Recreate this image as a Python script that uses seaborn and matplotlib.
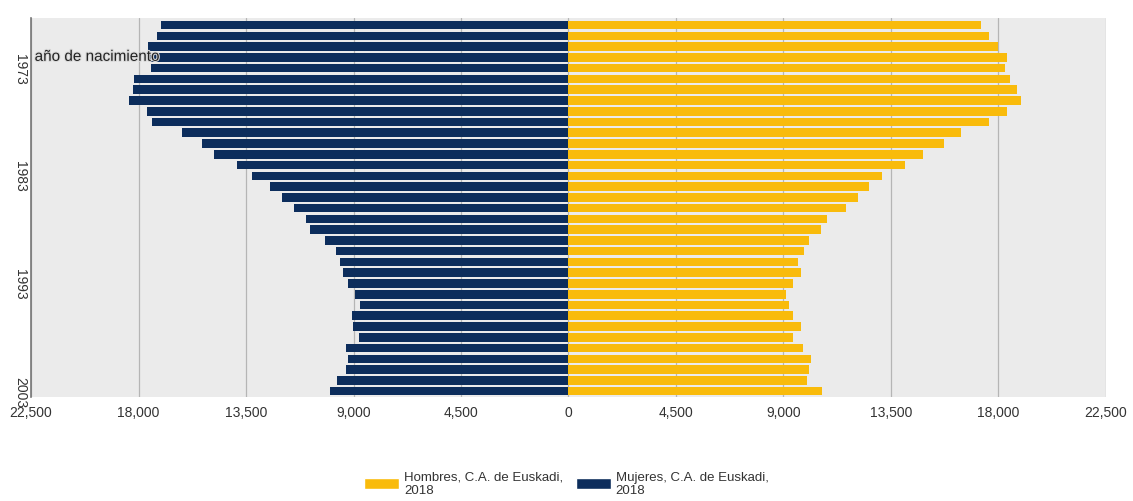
import matplotlib.pyplot as plt
import matplotlib.patheffects as pe
import numpy as np
import pandas as pd
import seaborn as sns
from matplotlib.patches import Patch

# birth years, top to bottom
years = list(range(1969, 2004))

# men (right side)
hombres = [17260, 17600, 17980, 18360, 18260, 18490, 18790, 18930, 18360, 17600,
           16450, 15720, 14860, 14070, 13120, 12580, 12140, 11620, 10820, 10580,
           10070, 9880, 9620, 9720, 9390, 9110, 9230, 9390, 9720, 9390,
           9830, 10150, 10070, 10000, 10630]

# women (left side)
mujeres = [17080, 17220, 17590, 17540, 17490, 18180, 18250, 18390, 17640, 17450,
           16200, 15350, 14830, 13870, 13240, 12490, 12010, 11480, 11000, 10810,
           10210, 9730, 9570, 9460, 9250, 8930, 8720, 9070, 9030, 8770,
           9300, 9250, 9300, 9680, 10000]

year_ticks = ['1973', '1983', '1993', '2003']
x_ticks = [-22500, -18000, -13500, -9000, -4500, 0, 4500, 9000, 13500, 18000, 22500]

c_h = '#f9bb0b'
c_m = '#0c2d5c'

df = pd.DataFrame({'year': [str(y) for y in years],
                   'hombres': hombres,
                   'mujeres': [-v for v in mujeres]})

sns.set_style('white')
plt.rcParams['font.family'] = ['Liberation Sans', 'DejaVu Sans']

fig = plt.figure(figsize=(11.33, 5.02), dpi=100)
ax = fig.add_axes([0.0274, 0.207, 0.9487, 0.755])
ax.set_facecolor('#ebebeb')

order = df['year'].tolist()
sns.barplot(data=df, x='hombres', y='year', order=order, orient='h',
            color=c_h, saturation=1, width=0.8, linewidth=0, ax=ax, zorder=2)
sns.barplot(data=df, x='mujeres', y='year', order=order, orient='h',
            color=c_m, saturation=1, width=0.8, linewidth=0, ax=ax, zorder=2)

# vertical grid
for xv in x_ticks:
    ax.axvline(xv, color='#b5b5b5', lw=0.9, zorder=1)

ax.set_xlim(-22500, 22500)
ax.set_ylim(34.55, -0.65)
ax.set_xticks(x_ticks)
ax.set_xticklabels([f'{abs(v):,}' for v in x_ticks], fontsize=10, color='#333333')
ax.set_yticks([order.index(t) for t in year_ticks])
ax.set_yticklabels(year_ticks, rotation=-90, va='center', fontsize=10, color='#333333')
ax.tick_params(axis='y', length=0, pad=3)
ax.tick_params(axis='x', length=0, pad=6)
ax.set_xlabel('')
ax.set_ylabel('')

for s in ['top', 'right', 'bottom']:
    ax.spines[s].set_visible(False)
ax.spines['left'].set_color('#777777')
ax.spines['left'].set_linewidth(1.2)

ax.text(-22350, 2.95, 'año de nacimiento', fontsize=11, color='#222222',
        va='center', ha='left', zorder=10,
        path_effects=[pe.withStroke(linewidth=1.5, foreground='#d8d8d8')])

handles = [Patch(facecolor=c_h, label='Hombres, C.A. de Euskadi,\n2018'),
           Patch(facecolor=c_m, label='Mujeres, C.A. de Euskadi,\n2018')]
fig.legend(handles=handles, loc='center', bbox_to_anchor=(0.5, 0.035), ncol=2,
           frameon=False, fontsize=9.5, handlelength=2.6, handleheight=1.0,
           columnspacing=1.0, handletextpad=0.4, labelcolor='#333333')

fig.savefig('out.png', dpi=100)
